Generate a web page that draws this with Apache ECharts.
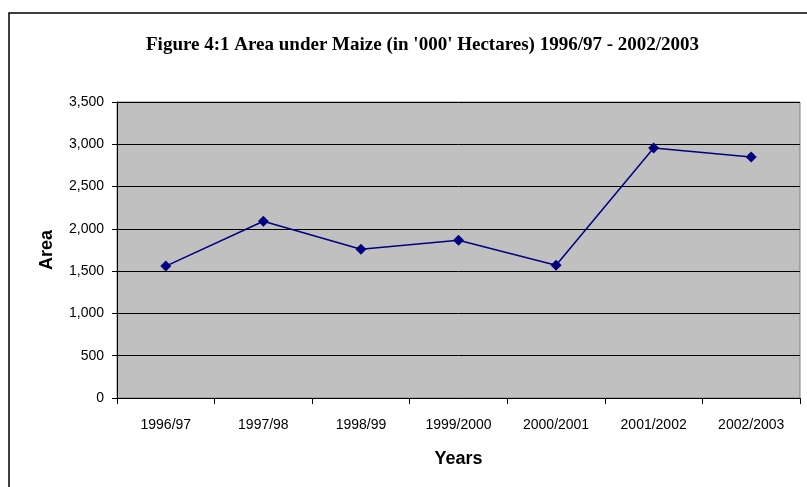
<!doctype html>
<html>
<head>
    <meta charset="utf-8">
    <title>Area under Maize</title>
    <script src="https://cdn.jsdelivr.net/npm/echarts@6/dist/echarts.min.js"></script>
    <style>
        body { margin: 0; background: #fff; }
        #main { width: 807px; height: 487px; }
    </style>
</head>
<body>
    <div id="main"></div>
<script type="text/javascript">
    // data
    var years = ['1996/97', '1997/98', '1998/99', '1999/2000', '2000/2001', '2001/2002', '2002/2003'];
    var area = [1560, 2090, 1760, 1865, 1570, 2955, 2850];

    var sans = '"Liberation Sans", Arial, sans-serif';

    var myChart = echarts.init(document.getElementById('main'));

    var option = {
        animation: false,
        title: {
            text: "Figure 4:1 Area under Maize (in '000' Hectares) 1996/97 - 2002/2003",
            left: 141,
            top: 31,
            textStyle: {
                fontFamily: '"Liberation Serif", "Times New Roman", serif',
                fontWeight: 'bold',
                fontSize: 19,
                color: '#000'
            }
        },
        // outer chart frame, runs off the right and bottom edges
        graphic: [{
            type: 'rect',
            shape: { x: 9, y: 13, width: 810, height: 490 },
            style: { fill: null, stroke: '#000', lineWidth: 1.5 },
            silent: true
        }],
        grid: {
            left: 117,
            right: 7,
            top: 102,
            bottom: 89,
            show: true,
            backgroundColor: '#C0C0C0',
            borderColor: '#808080',
            borderWidth: 1
        },
        xAxis: {
            type: 'category',
            data: years,
            boundaryGap: true,
            name: 'Years',
            nameLocation: 'middle',
            nameGap: 52,
            nameTextStyle: {
                fontFamily: sans,
                fontWeight: 'bold',
                fontSize: 18,
                color: '#000'
            },
            axisLine: { lineStyle: { color: '#000', width: 1 } },
            axisTick: { show: true, alignWithLabel: false, length: 6, lineStyle: { color: '#000' } },
            axisLabel: {
                margin: 20,
                fontFamily: sans,
                fontSize: 14,
                color: '#000'
            }
        },
        yAxis: {
            type: 'value',
            min: 0,
            max: 3500,
            interval: 500,
            name: 'Area',
            nameLocation: 'middle',
            nameGap: 61,
            nameTextStyle: {
                fontFamily: sans,
                fontWeight: 'bold',
                fontSize: 18,
                color: '#000'
            },
            axisLine: { show: true, lineStyle: { color: '#000', width: 1 } },
            axisTick: { show: true, length: 5, lineStyle: { color: '#000' } },
            axisLabel: {
                margin: 13,
                fontFamily: sans,
                fontSize: 14,
                color: '#000',
                formatter: function (v) { return v.toLocaleString('en-US'); }
            },
            splitLine: { show: true, lineStyle: { color: '#000', width: 1 } }
        },
        series: [{
            name: 'Area',
            type: 'line',
            data: area,
            symbol: 'diamond',
            symbolSize: 11,
            lineStyle: { color: '#000080', width: 1.5 },
            itemStyle: { color: '#000080' }
        }]
    };

    myChart.setOption(option);
</script>
</body>
</html>
